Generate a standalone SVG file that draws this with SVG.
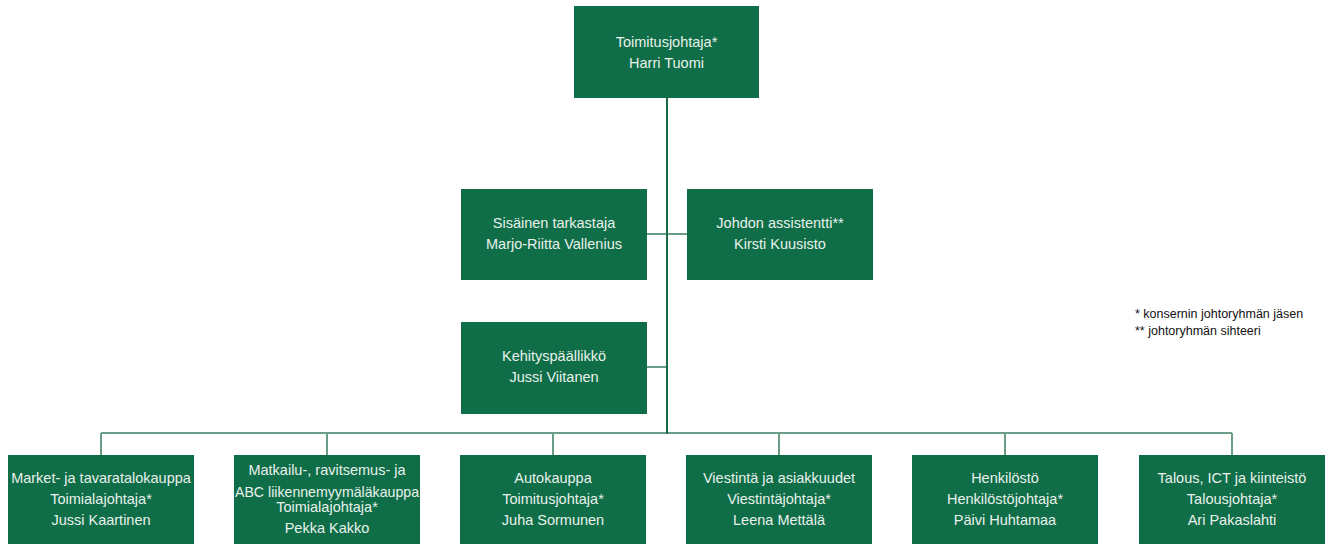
<svg xmlns="http://www.w3.org/2000/svg" width="1330" height="544" viewBox="0 0 1330 544">
<style>
.box{fill:#0f6e47}
.t{font-family:"Liberation Sans",Arial,sans-serif;font-size:14.5px;fill:#e9f1ec;text-anchor:middle}
.main{stroke:#1d6a48;stroke-width:2;fill:none}
.br{stroke:#6a9e86;stroke-width:2;fill:none}
.leg{font-family:"Liberation Sans",Arial,sans-serif;font-size:12.5px;fill:#111}
</style>
<rect width="1330" height="544" fill="#ffffff"/>
<g id="connectors">
<path class="br" d="M647 234H687"/>
<path class="br" d="M647 367H667"/>
<path class="br" d="M101 433H1232M101 433V455M327 433V455M553 433V455M779 433V455M1005 433V455M1232 433V455"/>
<path class="main" d="M667 98V434"/>
</g>
<g id="ceo"><rect class="box" x="574" y="6" width="185" height="92"/>
<text class="t" x="666.5" y="47">Toimitusjohtaja*</text><text class="t" x="666.5" y="68">Harri Tuomi</text></g>
<g id="audit"><rect class="box" x="461" y="189" width="186" height="91"/>
<text class="t" x="554" y="228">Sisäinen tarkastaja</text><text class="t" x="554" y="249">Marjo-Riitta Vallenius</text></g>
<g id="assistant"><rect class="box" x="687" y="189" width="186" height="91"/>
<text class="t" x="780" y="228">Johdon assistentti**</text><text class="t" x="780" y="249">Kirsti Kuusisto</text></g>
<g id="development"><rect class="box" x="461" y="322" width="186" height="92"/>
<text class="t" x="554" y="361">Kehityspäällikkö</text><text class="t" x="554" y="382">Jussi Viitanen</text></g>
<g id="market"><rect class="box" x="8" y="455" width="186" height="92"/>
<text class="t" x="101" y="483">Market- ja tavaratalokauppa</text><text class="t" x="101" y="504">Toimialajohtaja*</text><text class="t" x="101" y="525">Jussi Kaartinen</text></g>
<g id="abc"><rect class="box" x="234" y="455" width="186" height="92"/>
<text class="t" x="327" y="475">Matkailu-, ravitsemus- ja</text><text class="t" x="327" y="497" textLength="184" lengthAdjust="spacingAndGlyphs">ABC liikennemyymäläkauppa</text><text class="t" x="327" y="512">Toimialajohtaja*</text><text class="t" x="327" y="533">Pekka Kakko</text></g>
<g id="auto"><rect class="box" x="460" y="455" width="186" height="92"/>
<text class="t" x="553" y="483">Autokauppa</text><text class="t" x="553" y="504">Toimitusjohtaja*</text><text class="t" x="553" y="525">Juha Sormunen</text></g>
<g id="comms"><rect class="box" x="686" y="455" width="186" height="92"/>
<text class="t" x="779" y="483">Viestintä ja asiakkuudet</text><text class="t" x="779" y="504">Viestintäjohtaja*</text><text class="t" x="779" y="525">Leena Mettälä</text></g>
<g id="hr"><rect class="box" x="912" y="455" width="186" height="92"/>
<text class="t" x="1005" y="483">Henkilöstö</text><text class="t" x="1005" y="504">Henkilöstöjohtaja*</text><text class="t" x="1005" y="525">Päivi Huhtamaa</text></g>
<g id="finance"><rect class="box" x="1139" y="455" width="186" height="92"/>
<text class="t" x="1232" y="483">Talous, ICT ja kiinteistö</text><text class="t" x="1232" y="504">Talousjohtaja*</text><text class="t" x="1232" y="525">Ari Pakaslahti</text></g>
<g id="legend">
<text class="leg" x="1135" y="318">* konsernin johtoryhmän jäsen</text>
<text class="leg" x="1135" y="335">** johtoryhmän sihteeri</text>
</g>
</svg>
